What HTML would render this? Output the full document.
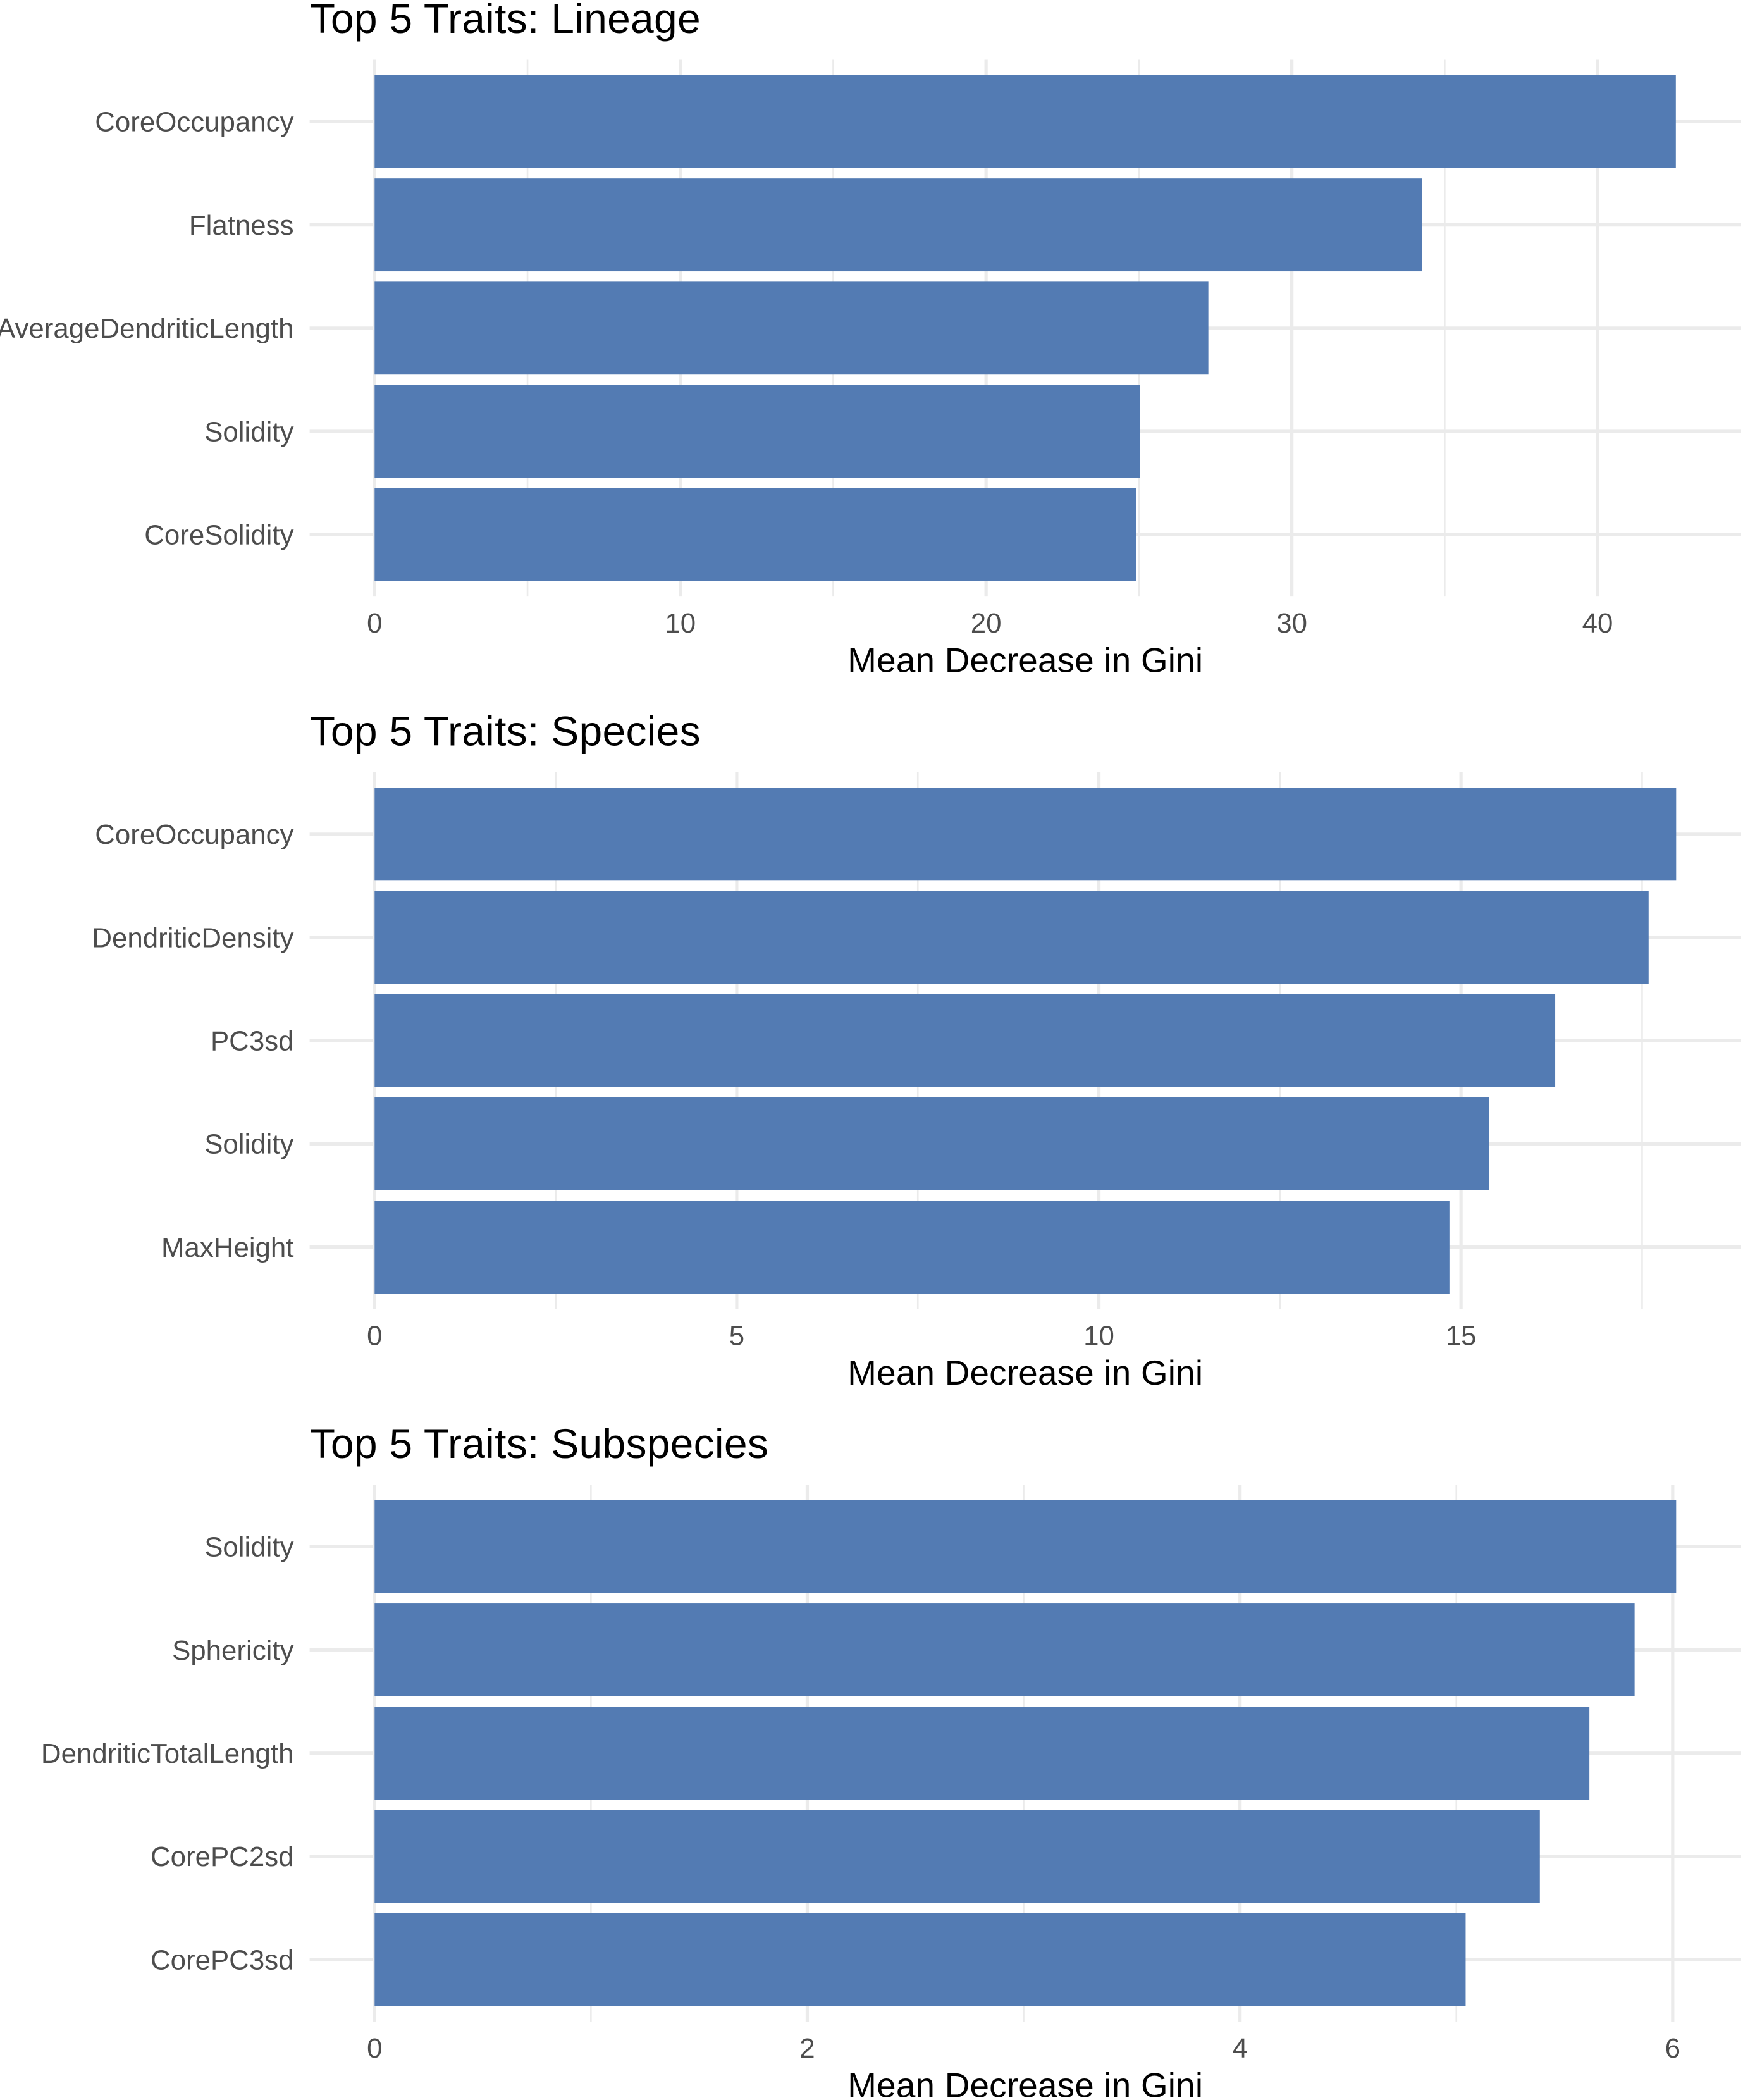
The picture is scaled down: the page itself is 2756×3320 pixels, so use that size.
<!DOCTYPE html>
<html lang="en">
<head>
<meta charset="utf-8">
<title>Top 5 Traits</title>
<style>
  html, body { margin: 0; padding: 0; background: #ffffff; }
  #chart { display: block; width: 2756px; height: 3320px; }
  text { font-family: "Liberation Sans", Arial, sans-serif; }
</style>
</head>
<body>
<svg id="chart" xmlns="http://www.w3.org/2000/svg" width="2756" height="3320" viewBox="0 0 2756 3320"></svg>
<script>
// ---- Lineage ----
const lineageCategories = ["CoreOccupancy", "Flatness", "AverageDendriticLength", "Solidity", "CoreSolidity"];
const lineageValues = [42.56, 34.25, 27.27, 25.03, 24.90];
const lineageMajorTicks = [0, 10, 20, 30, 40];
const lineageMinorTicks = [5, 15, 25, 35];
const lineageAxisMax = 42.57;

// ---- Species ----
const speciesCategories = ["CoreOccupancy", "DendriticDensity", "PC3sd", "Solidity", "MaxHeight"];
const speciesValues = [17.97, 17.59, 16.30, 15.39, 14.84];
const speciesMajorTicks = [0, 5, 10, 15];
const speciesMinorTicks = [2.5, 7.5, 12.5, 17.5];
const speciesAxisMax = 17.97;

// ---- Subspecies ----
const subspeciesCategories = ["Solidity", "Sphericity", "DendriticTotalLength", "CorePC2sd", "CorePC3sd"];
const subspeciesValues = [6.016, 5.824, 5.615, 5.386, 5.043];
const subspeciesMajorTicks = [0, 2, 4, 6];
const subspeciesMinorTicks = [1, 3, 5];
const subspeciesAxisMax = 6.016;

const panelTitles = ["Top 5 Traits: Lineage", "Top 5 Traits: Species", "Top 5 Traits: Subspecies"];
const xAxisTitle = "Mean Decrease in Gini";

const SVG_NS = "http://www.w3.org/2000/svg";
const chart = document.getElementById("chart");

const PANEL_LEFT = 489.6;
const PANEL_RIGHT = 2753;
const X_ZERO = 592.3;
const X_END = 2650.3;
const PANEL_HEIGHT = 848.6;
const PANEL_OFFSET = 1126.45;
const FIRST_PANEL_TOP = 94.5;

const GRID_COLOR = "#ebebeb";
const BAR_COLOR = "#537bb3";

function create(parent, tag, attrs) {
  const el = document.createElementNS(SVG_NS, tag);
  for (const key in attrs) el.setAttribute(key, attrs[key]);
  parent.appendChild(el);
  return el;
}

function drawPanel(index, key, title, categories, values, majorTicks, minorTicks, axisMax) {
  const top = FIRST_PANEL_TOP + PANEL_OFFSET * index;
  const bottom = top + PANEL_HEIGHT;
  const step = PANEL_HEIGHT / (categories.length - 1 + 1.2);

  const xScale = function (v) { return X_ZERO + (v / axisMax) * (X_END - X_ZERO); };
  const yScale = function (i) { return top + step * (0.6 + i); };

  const group = create(chart, "g", {});
  
  

  const titleEl = create(group, "text", { x: PANEL_LEFT, y: top - 42.5, "font-size": 66, "letter-spacing": 0.27, fill: "#000000" });
  titleEl.textContent = title;
  
  

  minorTicks.forEach(function (t) {
    const line = create(group, "line", { x1: xScale(t), x2: xScale(t), y1: top, y2: bottom, stroke: GRID_COLOR, "stroke-width": 2.6 });
    
    
  });

  majorTicks.forEach(function (t) {
    const x = xScale(t);
    const line = create(group, "line", { x1: x, x2: x, y1: top, y2: bottom, stroke: GRID_COLOR, "stroke-width": 5.2 });
    
    

    const label = create(group, "text", { x: x, y: bottom + 57, "font-size": 43.84, fill: "#4d4d4d", "text-anchor": "middle" });
    label.textContent = String(t);
    
    
  });

  categories.forEach(function (c, i) {
    const y = yScale(i);
    const line = create(group, "line", { x1: PANEL_LEFT, x2: PANEL_RIGHT, y1: y, y2: y, stroke: GRID_COLOR, "stroke-width": 5.2 });
    
    

    const label = create(group, "text", { x: 464.5, y: y + 15.3, "font-size": 43.84, fill: "#4d4d4d", "text-anchor": "end" });
    label.textContent = c;
    
    
  });

  values.forEach(function (v, i) {
    const h = step * 0.9;
    const bar = create(group, "rect", { x: xScale(0), y: yScale(i) - h / 2, width: xScale(v) - xScale(0), height: h, fill: BAR_COLOR });
    
    
  });

  const axisTitle = create(group, "text", { x: (PANEL_LEFT + PANEL_RIGHT) / 2, y: bottom + 119.5, "font-size": 54.8, "letter-spacing": 0.22, fill: "#000000", "text-anchor": "middle" });
  axisTitle.textContent = xAxisTitle;
  
  
}

drawPanel(0, "lineage", panelTitles[0], lineageCategories, lineageValues, lineageMajorTicks, lineageMinorTicks, lineageAxisMax);
drawPanel(1, "species", panelTitles[1], speciesCategories, speciesValues, speciesMajorTicks, speciesMinorTicks, speciesAxisMax);
drawPanel(2, "subspecies", panelTitles[2], subspeciesCategories, subspeciesValues, subspeciesMajorTicks, subspeciesMinorTicks, subspeciesAxisMax);
</script>
</body>
</html>
